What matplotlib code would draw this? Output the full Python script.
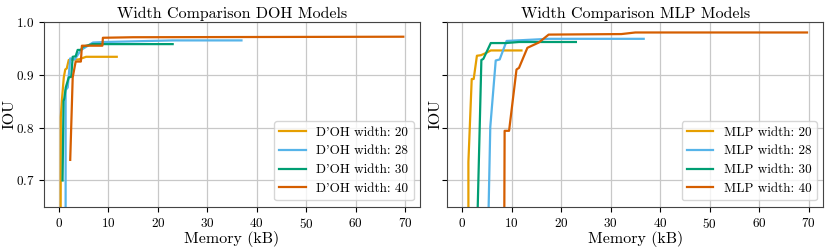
import matplotlib
matplotlib.use('Agg')
import matplotlib.pyplot as plt

plt.rcParams['font.family'] = 'serif'
plt.rcParams['font.serif'] = ['cmr10']
plt.rcParams['mathtext.fontset'] = 'cm'
plt.rcParams['axes.formatter.use_mathtext'] = True

colors = ['#E69F00', '#56B4E9', '#009E73', '#D55E00']
widths = [20, 28, 30, 40]

# D'OH models: memory (kB) vs IOU
doh_x = [
    [0.35, 0.4, 0.6, 1.0, 1.3, 1.6, 2.0, 3.0, 4.0, 5.5, 11.7],
    [1.37, 1.37, 1.8, 2.3, 3.2, 4.5, 6.9, 9.4, 23.0, 36.9],
    [0.75, 0.95, 1.1, 1.4, 2.0, 2.5, 2.8, 3.4, 3.8, 4.5, 4.8, 6.8, 23.0],
    [2.3, 2.8, 3.4, 4.45, 4.66, 8.8, 8.9, 15.0, 69.6],
]
doh_y = [
    [0.55, 0.82, 0.85, 0.895, 0.91, 0.912, 0.928, 0.929, 0.929, 0.934, 0.934],
    [0.55, 0.871, 0.876, 0.931, 0.929, 0.947, 0.961, 0.962, 0.965, 0.965],
    [0.70, 0.85, 0.855, 0.876, 0.895, 0.896, 0.934, 0.935, 0.947, 0.947, 0.953, 0.958, 0.958],
    [0.739, 0.895, 0.925, 0.925, 0.955, 0.955, 0.970, 0.971, 0.972],
]

# MLP models: memory (kB) vs IOU
mlp_x = [
    [1.28, 1.28, 1.95, 2.35, 3.0, 3.8, 4.8, 5.8, 12.0],
    [5.15, 5.7, 6.8, 7.6, 9.0, 17.5, 36.7],
    [2.9, 3.9, 4.3, 5.8, 8.8, 11.5, 23.0],
    [8.5, 8.6, 9.5, 11.0, 11.5, 13.2, 15.5, 17.5, 32.2, 35.0, 69.7],
]
mlp_y = [
    [0.55, 0.735, 0.892, 0.892, 0.936, 0.937, 0.941, 0.946, 0.946],
    [0.55, 0.801, 0.927, 0.929, 0.964, 0.968, 0.968],
    [0.55, 0.928, 0.930, 0.960, 0.960, 0.962, 0.962],
    [0.55, 0.794, 0.794, 0.910, 0.913, 0.951, 0.961, 0.976, 0.977, 0.980, 0.980],
]

fig, axes = plt.subplots(1, 2, figsize=(8.3, 2.49), dpi=100, sharey=True)

panels = [
    (axes[0], doh_x, doh_y, "D'OH", 'Width Comparison DOH Models'),
    (axes[1], mlp_x, mlp_y, 'MLP', 'Width Comparison MLP Models'),
]

for ax, xs, ys, name, title in panels:
    for x, y, w, c in zip(xs, ys, widths, colors):
        ax.plot(x, y, color=c, linewidth=1.6, label=f'{name} width: {w}')
    ax.set_ylim(0.65, 1.0)
    ax.set_xlim(-3.0, 73.0)
    ax.set_xticks([0, 10, 20, 30, 40, 50, 60, 70])
    ax.set_yticks([0.7, 0.8, 0.9, 1.0])
    ax.grid(True, color='#c8c8c8', linewidth=0.9)
    ax.set_axisbelow(True)
    ax.set_title(title, fontsize=11.5, pad=3)
    ax.set_xlabel('Memory (kB)', fontsize=11.5, labelpad=0)
    ax.set_ylabel('IOU', fontsize=11.5, labelpad=-0.5)
    ax.tick_params(labelsize=9.5)
    ax.legend(loc='lower right', fontsize=9.5)
    for s in ax.spines.values():
        s.set_color('#444444')

fig.subplots_adjust(left=0.053, right=0.992, top=0.912, bottom=0.169, wspace=0.072)
fig.savefig('out.png', dpi=100)
